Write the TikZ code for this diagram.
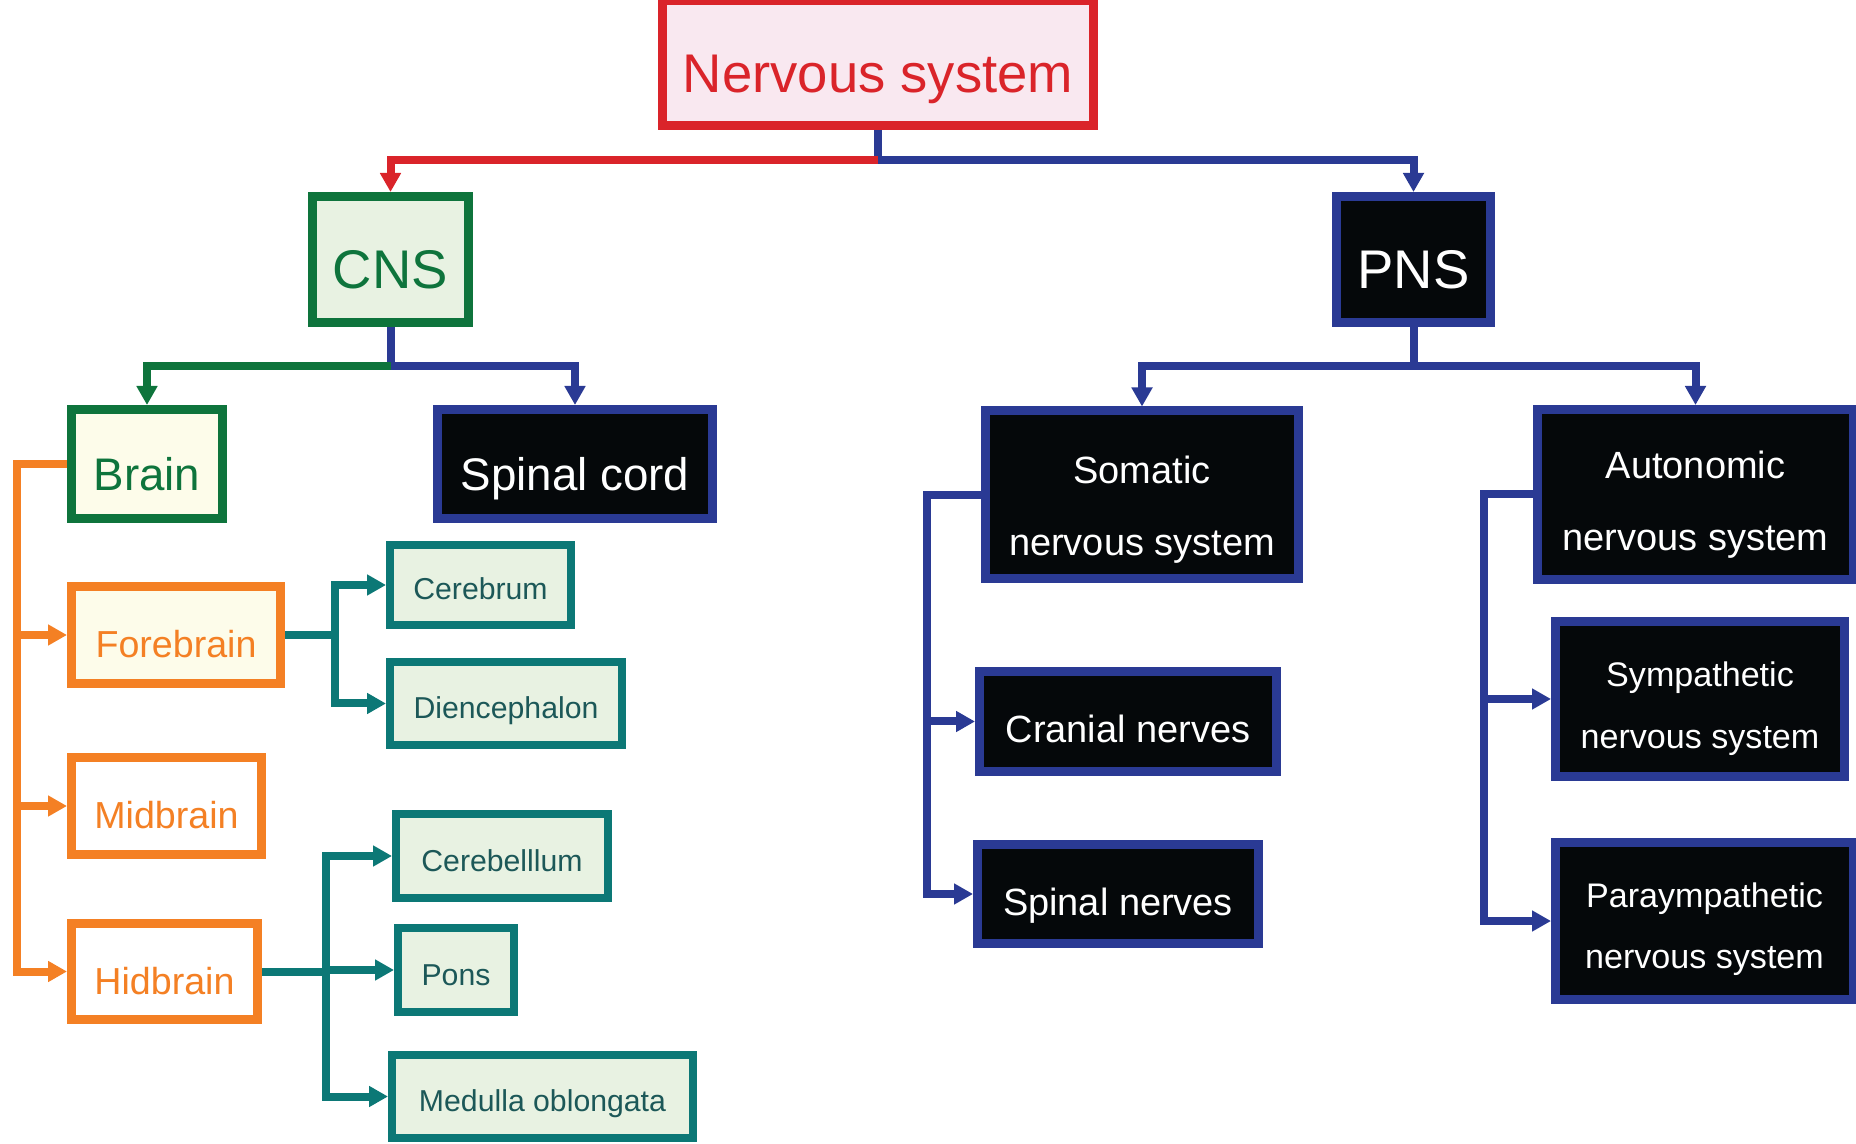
\documentclass[tikz,border=0pt]{standalone}
\usepackage{fontspec}
\setmainfont{Liberation Sans}
\usepackage{tikz}
\usetikzlibrary{arrows.meta, positioning}
\definecolor{myred}{RGB}{218,36,42}
\definecolor{mygreen}{RGB}{14,116,60}
\definecolor{myblue}{RGB}{42,58,148}
\definecolor{myorange}{RGB}{244,128,36}
\definecolor{myteal}{RGB}{12,120,118}
\definecolor{mydark}{RGB}{5,8,10}
\definecolor{tealtext}{RGB}{28,88,88}
\definecolor{hdrred}{RGB}{249,232,240}
\definecolor{hdrgreen}{RGB}{232,242,226}
\definecolor{hdrcream}{RGB}{253,252,234}
\tikzset{
  block/.style={rectangle,line width=0.09cm,inner sep=0pt,align=center},
  redblock/.style={block,draw=myred,fill=hdrred,text=myred},
  greenblock/.style={block,draw=mygreen,fill=hdrgreen,text=mygreen},
  brainblock/.style={block,draw=mygreen,fill=hdrcream,text=mygreen},
  darkblock/.style={block,draw=myblue,fill=mydark,text=white},
  orangeblock/.style={block,draw=myorange,fill=white,text=myorange,
    font=\fontsize{10.7}{13}\selectfont,text height=0.46cm,text depth=0pt},
  tealblock/.style={block,line width=0.08cm,draw=myteal,fill=hdrgreen,text=tealtext,
    font=\fontsize{8.6}{10}\selectfont,text height=0.30cm,text depth=0pt},
  bigtext/.style={font=\fontsize{15.5}{18}\selectfont,text height=0.59cm,text depth=0pt},
  midtext/.style={font=\fontsize{13}{15}\selectfont,text height=0.53cm,text depth=0pt},
  nervetext/.style={font=\fontsize{10.8}{13}\selectfont,text height=0.42cm,text depth=0pt},
  tip/.style={-{Triangle[length=1.9mm,width=2mm]}},
  redarrow/.style={tip,line width=0.08cm,color=myred},
  greenarrow/.style={tip,line width=0.08cm,color=mygreen},
  bluearrow/.style={tip,line width=0.08cm,color=myblue},
  orangearrow/.style={tip,line width=0.08cm,color=myorange},
  tealarrow/.style={tip,line width=0.08cm,color=myteal},
  blueline/.style={line width=0.08cm,color=myblue}
}

\begin{document}
\begin{tikzpicture}
  \useasboundingbox (0,0) rectangle (18.56,-11.44);

  % Top level
  \node[redblock, bigtext, minimum width=4.31cm, minimum height=1.25cm] (nerv) at (8.78,-0.63) {Nervous system};
  \node[greenblock, bigtext, minimum width=1.56cm, minimum height=1.26cm] (cns) at (3.905,-2.595) {CNS};
  \node[darkblock, bigtext, minimum width=1.54cm, minimum height=1.26cm] (pns) at (14.135,-2.595) {PNS};

  % CNS branch
  \node[brainblock, midtext, minimum width=1.51cm, minimum height=1.09cm] (brain) at (1.47,-4.64) {Brain};
  \node[darkblock, midtext, minimum width=2.75cm, minimum height=1.09cm] (spinal) at (5.75,-4.64) {Spinal cord};

  % Brain parts
  \node[orangeblock, fill=hdrcream, minimum width=2.09cm, minimum height=0.97cm] (forebrain) at (1.76,-6.35) {Forebrain};
  \node[orangeblock, minimum width=1.90cm, minimum height=0.97cm] (midbrain) at (1.665,-8.06) {Midbrain};
  \node[orangeblock, minimum width=1.86cm, minimum height=0.96cm] (hidbrain) at (1.645,-9.715) {Hidbrain};

  \node[tealblock, minimum width=1.81cm, minimum height=0.80cm] (cerebrum) at (4.805,-5.85) {Cerebrum};
  \node[tealblock, minimum width=2.32cm, minimum height=0.83cm] (dien) at (5.06,-7.035) {Diencephalon};
  \node[tealblock, minimum width=2.12cm, minimum height=0.84cm] (cerebellum) at (5.02,-8.56) {Cerebelllum};
  \node[tealblock, minimum width=1.16cm, minimum height=0.84cm] (pons) at (4.56,-9.70) {Pons};
  \node[tealblock, minimum width=3.01cm, minimum height=0.83cm] (medulla) at (5.425,-10.965) {Medulla oblongata};

  % PNS branch
  \node[darkblock, minimum width=3.13cm, minimum height=1.68cm,
    font=\fontsize{10.8}{20.5}\selectfont] (somatic) at (11.42,-4.95) {\rule{0pt}{16pt}Somatic\\nervous system};
  \node[darkblock, minimum width=3.16cm, minimum height=1.70cm,
    font=\fontsize{10.8}{20.5}\selectfont] (auto) at (16.955,-4.945) {\rule{0pt}{13.8pt}Autonomic\\nervous system};
  \node[darkblock, nervetext, minimum width=2.97cm, minimum height=1.00cm] (cranial) at (11.28,-7.215) {Cranial nerves};
  \node[darkblock, nervetext, minimum width=2.81cm, minimum height=0.99cm] (spinalnerves) at (11.18,-8.94) {Spinal nerves};
  \node[darkblock, minimum width=2.89cm, minimum height=1.55cm,
    font=\fontsize{9.7}{17.5}\selectfont] (sympa) at (17.00,-6.99) {\rule{0pt}{12.5pt}Sympathetic\\nervous system};
  \node[darkblock, minimum width=2.98cm, minimum height=1.57cm,
    font=\fontsize{9.7}{17.5}\selectfont] (paray) at (17.045,-9.21) {\rule{0pt}{11.6pt}Paraympathetic\\nervous system};

  % Junctions
  \coordinate (njunc) at (8.78,-1.60);
  \coordinate (cjunc) at (3.905,-3.66);
  \coordinate (pjunc) at (14.135,-3.66);

  % Connectors
  \draw[blueline] (nerv.south) -- (njunc);
  \draw[redarrow] (njunc) -| (cns.north);
  \draw[bluearrow] (njunc) -| (pns.north);

  \draw[blueline] (cns.south) -- (cjunc);
  \draw[greenarrow] (cjunc) -| (brain.north);
  \draw[bluearrow] (cjunc) -| (spinal.north);

  \draw[blueline] (pns.south) -- (pjunc);
  \draw[bluearrow] (pjunc) -| (somatic.north);
  \draw[bluearrow] (pjunc) -| (auto.north);

  \foreach \n in {forebrain,midbrain,hidbrain}
    \draw[orangearrow] (brain.west) -- ++(-0.50,0) |- (\n.west);
  \foreach \n in {cerebrum,dien}
    \draw[tealarrow] (forebrain.east) -- ++(0.50,0) |- (\n.west);
  \foreach \n in {cerebellum,pons,medulla}
    \draw[tealarrow] (hidbrain.east) -- ++(0.64,0) |- (\n.west);
  \foreach \n in {cranial,spinalnerves}
    \draw[bluearrow] (somatic.west) -- ++(-0.54,0) |- (\n.west);
  \foreach \n in {sympa,paray}
    \draw[bluearrow] (auto.west) -- ++(-0.49,0) |- (\n.west);
\end{tikzpicture}
\end{document}
